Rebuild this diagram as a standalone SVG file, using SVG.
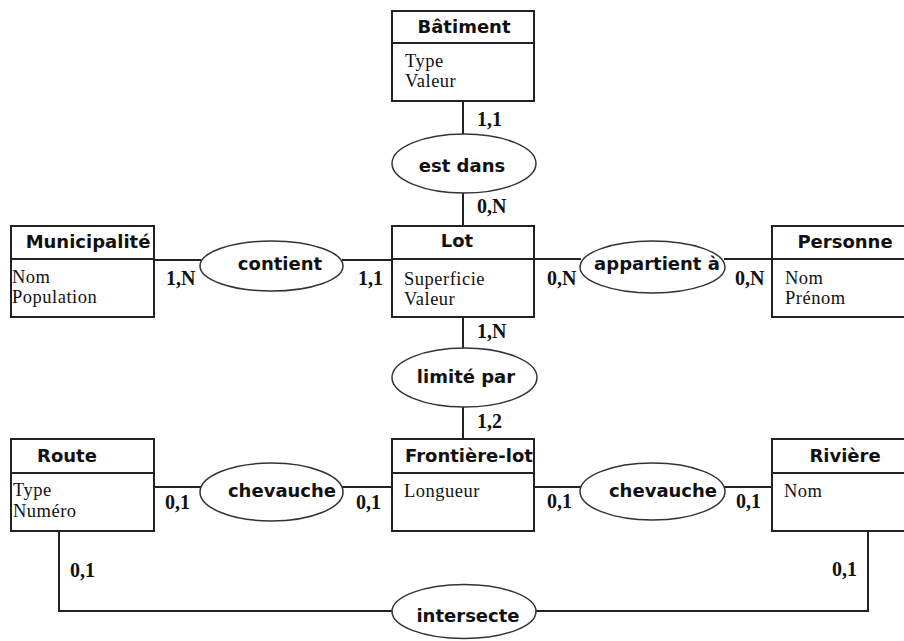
<svg xmlns="http://www.w3.org/2000/svg" width="904" height="641" viewBox="0 0 904 641">
<style>
.box{fill:#fff;stroke:#222;stroke-width:2}
.div{stroke:#222;stroke-width:2}
.rel{fill:#fff;stroke:#333;stroke-width:1.5}
.ln{fill:none;stroke:#222;stroke-width:2}
.title{font-family:"DejaVu Sans",sans-serif;font-weight:bold;font-size:18px;fill:#111;text-anchor:middle}
.rt{font-family:"DejaVu Sans",sans-serif;font-weight:bold;font-size:18px;fill:#111;text-anchor:middle}
.attr{font-family:"Liberation Serif",serif;font-size:18.5px;fill:#111;letter-spacing:0.5px}
.card{font-family:"Liberation Serif",serif;font-weight:bold;font-size:20px;fill:#111}
</style>
<rect width="904" height="641" fill="#fff"/>
<g id="connectors">
<line class="ln" x1="463" y1="101" x2="463" y2="134"/>
<line class="ln" x1="463" y1="193" x2="463" y2="226"/>
<line class="ln" x1="154" y1="260" x2="201" y2="260"/>
<line class="ln" x1="342" y1="260" x2="392" y2="260"/>
<line class="ln" x1="534" y1="259" x2="581" y2="259"/>
<line class="ln" x1="724" y1="259" x2="772" y2="259"/>
<line class="ln" x1="463" y1="317" x2="463" y2="348"/>
<line class="ln" x1="463" y1="407" x2="463" y2="439"/>
<line class="ln" x1="154" y1="487" x2="201" y2="487"/>
<line class="ln" x1="342" y1="487" x2="392" y2="487"/>
<line class="ln" x1="534" y1="487" x2="581" y2="487"/>
<line class="ln" x1="724" y1="487" x2="772" y2="487"/>
<polyline class="ln" points="59,531 59,611 392,611"/>
<polyline class="ln" points="868,531 868,611 536,611"/>
<line x1="392" y1="260" x2="403" y2="260" stroke="#111" stroke-width="3"/>
<text class="card" x="477" y="126">1,1</text>
<text class="card" x="477" y="213">0,N</text>
<text class="card" x="166" y="285">1,N</text>
<text class="card" x="358" y="285">1,1</text>
<text class="card" x="547" y="285">0,N</text>
<text class="card" x="735" y="285">0,N</text>
<text class="card" x="477" y="338">1,N</text>
<text class="card" x="477" y="428">1,2</text>
<text class="card" x="165" y="509">0,1</text>
<text class="card" x="356" y="509">0,1</text>
<text class="card" x="547" y="508">0,1</text>
<text class="card" x="736" y="508">0,1</text>
<text class="card" x="70" y="577">0,1</text>
<text class="card" x="832" y="576">0,1</text>
</g>
<g id="batiment">
<rect class="box" x="392" y="11" width="142" height="90"/>
<line class="div" x1="392" y1="43" x2="534" y2="43"/>
<text class="title" x="464" y="33">Bâtiment</text>
<text class="attr" x="405" y="67">Type</text>
<text class="attr" x="405" y="87">Valeur</text>
</g>
<g id="municipalite">
<rect class="box" x="11" y="226" width="143" height="91"/>
<line class="div" x1="11" y1="259" x2="154" y2="259"/>
<text class="title" x="88" y="248">Municipalité</text>
<text class="attr" x="12" y="283">Nom</text>
<text class="attr" x="12" y="303">Population</text>
</g>
<g id="lot">
<rect class="box" x="392" y="226" width="142" height="91"/>
<line class="div" x1="392" y1="259" x2="534" y2="259"/>
<text class="title" x="457" y="247">Lot</text>
<text class="attr" x="404" y="285">Superficie</text>
<text class="attr" x="404" y="305">Valeur</text>
</g>
<g id="personne">
<rect class="box" x="772" y="226" width="140" height="91"/>
<line class="div" x1="772" y1="259" x2="912" y2="259"/>
<text class="title" x="845" y="248">Personne</text>
<text class="attr" x="785" y="284">Nom</text>
<text class="attr" x="785" y="304">Prénom</text>
</g>
<g id="route">
<rect class="box" x="11" y="439" width="143" height="92"/>
<line class="div" x1="11" y1="473" x2="154" y2="473"/>
<text class="title" x="67" y="462">Route</text>
<text class="attr" x="13" y="496">Type</text>
<text class="attr" x="13" y="517">Numéro</text>
</g>
<g id="frontiere-lot">
<rect class="box" x="392" y="439" width="142" height="92"/>
<line class="div" x1="392" y1="473" x2="534" y2="473"/>
<text class="title" x="469" y="462">Frontière-lot</text>
<text class="attr" x="404" y="497">Longueur</text>
</g>
<g id="riviere">
<rect class="box" x="772" y="439" width="140" height="92"/>
<line class="div" x1="772" y1="473" x2="912" y2="473"/>
<text class="title" x="845" y="462">Rivière</text>
<text class="attr" x="784" y="497">Nom</text>
</g>
<g id="est-dans">
<ellipse class="rel" cx="464" cy="163.5" rx="72" ry="29.5"/>
<text class="rt" x="462" y="172">est dans</text>
</g>
<g id="contient">
<ellipse class="rel" cx="271.5" cy="266" rx="71.5" ry="25"/>
<text class="rt" x="280" y="270">contient</text>
</g>
<g id="appartient">
<ellipse class="rel" cx="652.5" cy="267" rx="72.5" ry="26"/>
<text class="rt" x="657" y="270">appartient à</text>
</g>
<g id="limite-par">
<ellipse class="rel" cx="464.5" cy="377.5" rx="72.5" ry="29.5"/>
<text class="rt" x="466" y="383">limité par</text>
</g>
<g id="chevauche-1">
<ellipse class="rel" cx="271.5" cy="492" rx="71.5" ry="29"/>
<text class="rt" x="282" y="497">chevauche</text>
</g>
<g id="chevauche-2">
<ellipse class="rel" cx="652.5" cy="491.5" rx="72.5" ry="28.5"/>
<text class="rt" x="663" y="497">chevauche</text>
</g>
<g id="intersecte">
<ellipse class="rel" cx="464" cy="611.5" rx="72" ry="27"/>
<text class="rt" x="468" y="622">intersecte</text>
</g>
</svg>
